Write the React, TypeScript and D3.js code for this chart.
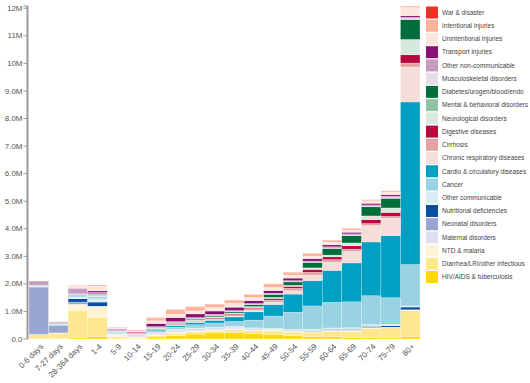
import React from "react";
import * as d3 from "d3";

const ageGroups = ["0-6 days", "7-27 days", "28-364 days", "1-4", "5-9", "10-14", "15-19", "20-24", "25-29", "30-34", "35-39", "40-44", "45-49", "50-54", "55-59", "60-64", "65-69", "70-74", "75-79", "80+"];

// values in millions of deaths, one entry per age group
const hivTb = [0.005, 0.01, 0.04, 0.09, 0.03, 0.02, 0.07, 0.13, 0.18, 0.22, 0.23, 0.2, 0.17, 0.12, 0.08, 0.08, 0.06, 0.06, 0.04, 0.09];
const diarrheaLri = [0.15, 0.2, 0.98, 0.7, 0.06, 0.035, 0.06, 0.08, 0.08, 0.07, 0.1, 0.1, 0.12, 0.13, 0.16, 0.2, 0.22, 0.32, 0.36, 0.94];
const ntdMalaria = [0.01, 0.01, 0.24, 0.4, 0.06, 0.03, 0.04, 0.04, 0.03, 0.04, 0.04, 0.04, 0.04, 0.04, 0.04, 0.04, 0.04, 0.04, 0.03, 0.03];
const maternal = [0, 0, 0, 0, 0, 0.002, 0.03, 0.05, 0.06, 0.05, 0.04, 0.015, 0.003, 0, 0, 0, 0, 0, 0, 0];
const neonatal = [1.72, 0.27, 0.08, 0, 0, 0, 0, 0, 0, 0, 0, 0, 0, 0, 0, 0, 0, 0, 0, 0];
const nutritional = [0.005, 0.01, 0.12, 0.15, 0.01, 0.01, 0.01, 0.01, 0.01, 0.01, 0.01, 0.01, 0.01, 0.02, 0.02, 0.03, 0.03, 0.04, 0.05, 0.1];
const otherCommunicable = [0.04, 0.03, 0.06, 0.12, 0.04, 0.025, 0.03, 0.04, 0.04, 0.04, 0.04, 0.04, 0.04, 0.04, 0.05, 0.05, 0.06, 0.06, 0.05, 0.04];
const cancer = [0.005, 0.01, 0.03, 0.05, 0.04, 0.035, 0.06, 0.08, 0.12, 0.15, 0.18, 0.28, 0.45, 0.62, 0.85, 0.93, 0.94, 1.05, 0.97, 1.5];
const cardio = [0.005, 0.01, 0.03, 0.03, 0.01, 0.01, 0.03, 0.06, 0.08, 0.1, 0.16, 0.3, 0.42, 0.66, 0.92, 1.16, 1.41, 1.95, 2.25, 5.9];
const chronicResp = [0, 0, 0.01, 0.02, 0.01, 0.01, 0.01, 0.01, 0.02, 0.02, 0.03, 0.05, 0.08, 0.12, 0.2, 0.3, 0.42, 0.6, 0.64, 1.27];
const cirrhosis = [0, 0, 0, 0.005, 0.005, 0.005, 0.01, 0.02, 0.03, 0.04, 0.05, 0.07, 0.08, 0.09, 0.1, 0.09, 0.08, 0.07, 0.06, 0.14];
const digestive = [0.005, 0.005, 0.02, 0.02, 0.01, 0.01, 0.02, 0.02, 0.02, 0.03, 0.03, 0.04, 0.06, 0.07, 0.1, 0.1, 0.12, 0.14, 0.14, 0.3];
const neurological = [0.005, 0.005, 0.02, 0.02, 0.015, 0.015, 0.02, 0.02, 0.02, 0.02, 0.02, 0.02, 0.03, 0.03, 0.05, 0.06, 0.1, 0.13, 0.16, 0.55];
const mental = [0, 0, 0, 0, 0, 0, 0.005, 0.01, 0.015, 0.015, 0.015, 0.015, 0.01, 0.01, 0.01, 0.005, 0.005, 0.005, 0.005, 0.01];
const diabetesUrogen = [0.005, 0.005, 0.02, 0.02, 0.01, 0.01, 0.02, 0.03, 0.04, 0.05, 0.05, 0.07, 0.11, 0.12, 0.2, 0.24, 0.27, 0.33, 0.35, 0.72];
const musculoskeletal = [0, 0, 0, 0, 0, 0, 0.005, 0.005, 0.005, 0.01, 0.01, 0.01, 0.01, 0.01, 0.01, 0.02, 0.02, 0.02, 0.03, 0.04];
const otherNonCommunicable = [0.15, 0.05, 0.18, 0.06, 0.02, 0.015, 0.03, 0.03, 0.03, 0.03, 0.03, 0.03, 0.03, 0.04, 0.04, 0.04, 0.04, 0.05, 0.05, 0.05];
const transport = [0, 0.002, 0.01, 0.06, 0.035, 0.03, 0.11, 0.14, 0.13, 0.12, 0.12, 0.1, 0.09, 0.09, 0.08, 0.07, 0.06, 0.06, 0.05, 0.05];
const unintentional = [0.005, 0.01, 0.1, 0.17, 0.035, 0.03, 0.1, 0.13, 0.11, 0.13, 0.14, 0.12, 0.12, 0.11, 0.1, 0.1, 0.08, 0.09, 0.1, 0.3];
const intentional = [0, 0, 0.01, 0.03, 0.01, 0.015, 0.1, 0.15, 0.14, 0.1, 0.1, 0.1, 0.12, 0.1, 0.1, 0.07, 0.06, 0.04, 0.04, 0.05];
const warDisaster = [0, 0, 0.005, 0.01, 0.01, 0.01, 0.01, 0.01, 0.01, 0.01, 0.01, 0.005, 0.005, 0.005, 0.005, 0.005, 0.003, 0.003, 0.002, 0.002];

// bottom to top stacking order
const causeNames = [
  "HIV/AIDS & tuberculosis",
  "Diarrhea/LRI/other infectious",
  "NTD & malaria",
  "Maternal disorders",
  "Neonatal disorders",
  "Nutritional deficiencies",
  "Other communicable",
  "Cancer",
  "Cardio & circulatory diseases",
  "Chronic respiratory diseases",
  "Cirrhosis",
  "Digestive diseases",
  "Neurological disorders",
  "Mental & behavioral disorders",
  "Diabetes/urogen/blood/endo",
  "Musculoskeletal disorders",
  "Other non-communicable",
  "Transport injuries",
  "Unintentional injuries",
  "Intentional injuries",
  "War & disaster",
];
const causeSeries = [hivTb, diarrheaLri, ntdMalaria, maternal, neonatal, nutritional, otherCommunicable, cancer, cardio, chronicResp, cirrhosis, digestive, neurological, mental, diabetesUrogen, musculoskeletal, otherNonCommunicable, transport, unintentional, intentional, warDisaster];
const causeColors = [
  "#ffd900", "#ffe78f", "#fff5d6", "#dddff0", "#9aa6d2", "#0a4f9e", "#d9eef3",
  "#98d2e3", "#00a0c4", "#f5ddda", "#e2a3a0", "#ba0840", "#d7e8de", "#91c2a3",
  "#006d3b", "#e6dcea", "#c59bc2", "#870f73", "#fde6dc", "#fbb19a", "#ee3124",
];

const W = 530;
const H = 383;
const margin = { left: 29, right: 110, top: 6, bottom: 44 };

export default function App() {
  const rows = ageGroups.map((age, i) => {
    const r: any = { age };
    causeNames.forEach((c, k) => (r[c] = causeSeries[k][i] * 1e6));
    return r;
  });
  const stacked = d3.stack<any>().keys(causeNames)(rows);
  const totals = rows.map((r) => d3.sum(causeNames, (c) => r[c]));
  const x = d3.scaleBand().domain(ageGroups).range([margin.left, 420]).padding(0);
  const y = d3.scaleLinear().domain([0, d3.max(totals) as number]).range([H - margin.bottom, margin.top]);
  const fmt = d3.format(".2s");
  const ticks = d3.range(0, 13).map((v) => v * 1e6);
  const axisX = 27.5;
  const font = "'Liberation Sans', Arial, sans-serif";
  const legendOrder = causeNames.map((c, i) => ({ c, color: causeColors[i] })).reverse();

  return (
    <svg width={W} height={H} style={{ position: "absolute", left: 0, top: 0, background: "#fff" }}>
      <g>
        {stacked.map((s, k) => (
          <g key={s.key} fill={causeColors[k]}>
            {s.map((d, i) => (
              <rect
                key={i}
                x={x(ageGroups[i])}
                width={x.bandwidth()}
                y={y(d[1])}
                height={Math.max(0, y(d[0]) - y(d[1]))}
                stroke="#fff"
                strokeWidth={0.4}
                strokeOpacity={0.6}
              />
            ))}
          </g>
        ))}
      </g>
      <g fontFamily={font} fontSize={8} fill="#555">
        <line x1={axisX} x2={axisX} y1={y(d3.max(totals) as number)} y2={y(0)} stroke="#999" strokeWidth={2} />
        <line x1={axisX - 4} x2={axisX} y1={y(d3.max(totals) as number)} y2={y(d3.max(totals) as number)} stroke="#999" />
        {ticks.map((t) => (
          <g key={t} transform={`translate(0,${y(t)})`}>
            <line x1={axisX - 4} x2={axisX} stroke="#999" />
            <text x={axisX - 5} dy="0.32em" textAnchor="end">{fmt(t)}</text>
          </g>
        ))}
        {ageGroups.map((a) => (
          <text
            key={a}
            transform={`translate(${(x(a) as number) + x.bandwidth() / 2 + 3},${H - margin.bottom + 6}) rotate(-45)`}
            textAnchor="end"
            dy="0.35em"
          >
            {a}
          </text>
        ))}
      </g>
      <g fontFamily={font} fontSize={6.5} fill="#444">
        {legendOrder.map((l, i) => (
          <g key={l.c} transform={`translate(426,${12.5 + i * 13.23})`}>
            <rect x={0} y={-6} width={12} height={12} fill={l.color} />
            <text x={16} dy="0.35em">{l.c}</text>
          </g>
        ))}
      </g>
    </svg>
  );
}
